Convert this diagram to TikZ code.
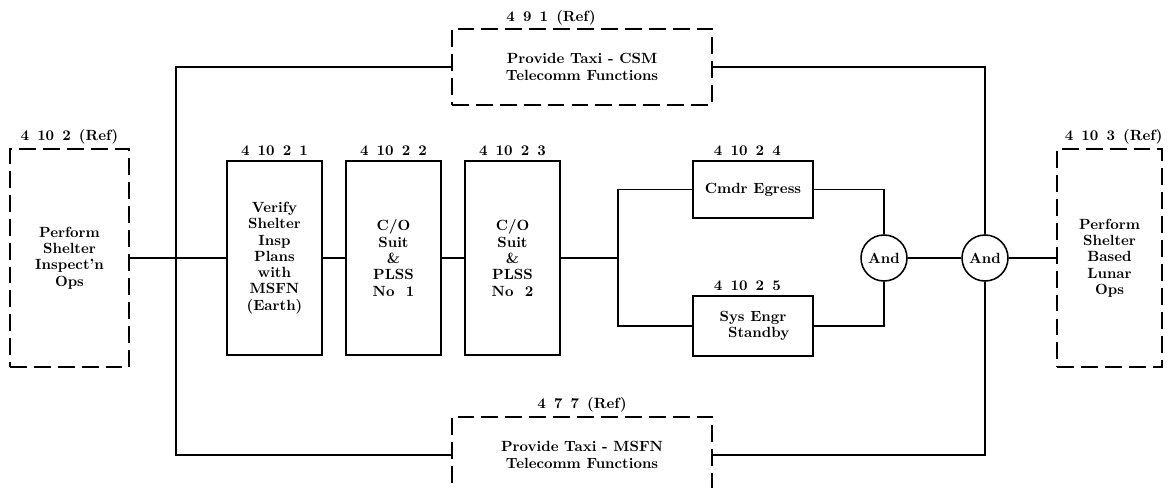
\documentclass[tikz,border=0pt]{standalone}
\usepackage{tikz}
\usetikzlibrary{positioning,calc}

\begin{document}
\begin{tikzpicture}[x=0.025cm,y=-0.025cm,every node/.style={font=\fontsize{10.5}{11.6}\selectfont\bfseries},
      task/.style={draw,line width=1.1pt,align=center,inner sep=2pt},
      reftask/.style={task,dash pattern=on 12pt off 5pt},
      gate/.style={draw,line width=1.1pt,circle,minimum size=1.15cm,inner sep=0pt},
      lbl/.style={inner sep=1pt},
      link/.style={line width=1.3pt}]
    \useasboundingbox (0,0) rectangle (1168,487);
    % Reference functions
    \node[reftask,minimum width=2.975cm,minimum height=5.45cm] (inspect) at (69.5,258) {Perform\\Shelter\\Inspect'n\\Ops};
    \node[reftask,minimum width=2.625cm,minimum height=5.45cm] (lunar) at (1109.5,258) {Perform\\Shelter\\Based\\Lunar\\Ops};
    \node[reftask,minimum width=6.5cm,minimum height=1.9cm] (csm) at (582,67) {Provide Taxi - CSM\\Telecomm Functions};
    \node[reftask,minimum width=6.5cm,minimum height=1.9cm] (msfn) at (582,455) {Provide Taxi - MSFN\\Telecomm Functions};
    % Sequence of tasks
    \node[task,minimum width=2.375cm,minimum height=4.85cm] (verify) at (274.5,258) {Verify\\Shelter\\Insp\\Plans\\with\\MSFN\\(Earth)};
    \node[task,minimum width=2.375cm,minimum height=4.85cm] (suit1) at (393.5,258) {C/O\\Suit\\\&\\PLSS\\No~~1};
    \node[task,minimum width=2.375cm,minimum height=4.85cm] (suit2) at (512.5,258) {C/O\\Suit\\\&\\PLSS\\No~~2};
    \node[task,minimum width=3cm,minimum height=1.425cm] (cmdr) at (753,189.5) {Cmdr Egress};
    \node[task,minimum width=3cm,minimum height=1.5cm] (sysengr) at (753,326) {Sys Engr\\~~Standby};
    % Gates
    \node[gate] (and1) at (884,258) {And};
    \node[gate] (and2) at (985,258) {And};
    % Numbers
    \node[lbl,above=2pt of inspect] {4~\,10~\,2~\,(Ref)};
    \node[lbl,above=2pt of lunar,xshift=3pt] {4~\,10~\,3~\,(Ref)};
    \node[lbl,above=1pt of csm,xshift=-22pt] {4~\,9~\,1~\,(Ref)};
    \node[lbl,above=2pt of msfn] {4~\,7~\,7~\,(Ref)};
    \node[lbl,above=2pt of verify] {4~\,10~\,2~\,1};
    \node[lbl,above=2pt of suit1] {4~\,10~\,2~\,2};
    \node[lbl,above=2pt of suit2] {4~\,10~\,2~\,3};
    \node[lbl,above=2pt of cmdr,xshift=-4pt] {4~\,10~\,2~\,4};
    \node[lbl,above=2pt of sysengr,xshift=-4pt] {4~\,10~\,2~\,5};
    \coordinate (bus) at (176,258);
    \coordinate (fork) at (618,258);
    % Main path
    \foreach \a/\b in {inspect/verify,verify/suit1,suit1/suit2,suit2/fork,and1/and2,and2/lunar}{\draw[link](\a)--(\b);}
    \draw[link] (cmdr.west) -| (fork) |- (sysengr.west);
    \draw[link] (cmdr.east) -| (and1.north);
    \draw[link] (sysengr.east) -| (and1.south);
    % Telecomm paths
    \draw[link] (csm.west) -| (bus) |- (msfn.west);
    \draw[link] (csm.east) -| (and2.north);
    \draw[link] (msfn.east) -| (and2.south);
  \end{tikzpicture}
\end{document}
